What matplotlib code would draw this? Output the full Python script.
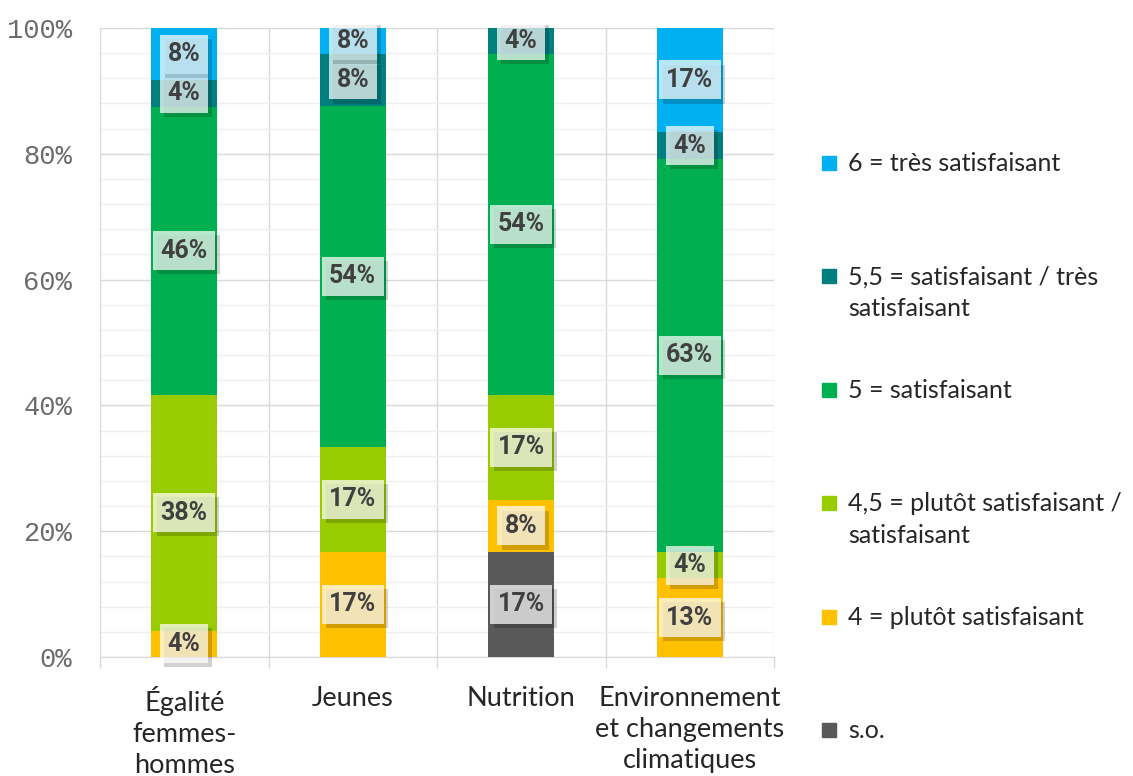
import matplotlib
matplotlib.use('Agg')
import numpy as np
import matplotlib.pyplot as plt
import matplotlib.patheffects as pe
from matplotlib.patches import Rectangle
from matplotlib.ticker import MultipleLocator, FuncFormatter

categories = ['Égalité\nfemmes-\nhommes', 'Jeunes', 'Nutrition',
              'Environnement\net changements\nclimatiques']

series_names = ['s.o.', '4 = plutôt satisfaisant',
                '4,5 = plutôt satisfaisant /\nsatisfaisant', '5 = satisfaisant',
                '5,5 = satisfaisant / très\nsatisfaisant', '6 = très satisfaisant']
colors = ['#595959', '#FFC000', '#99CC00', '#00B050', '#007F7F', '#00B0F0']

# heights of segments (%), bottom to top
so = [0, 0, 16.7, 0]
note4 = [4.2, 16.7, 8.3, 12.5]
note45 = [37.5, 16.7, 16.7, 4.2]
note5 = [45.8, 54.2, 54.2, 62.5]
note55 = [4.2, 8.3, 4.2, 4.2]
note6 = [8.3, 4.2, 0, 16.7]

# labels as printed on the chart
lab_so = ['', '', '17%', '']
lab4 = ['4%', '17%', '8%', '13%']
lab45 = ['38%', '17%', '17%', '4%']
lab5 = ['46%', '54%', '54%', '63%']
lab55 = ['4%', '8%', '4%', '4%']
lab6 = ['8%', '8%', '', '17%']

series = [so, note4, note45, note5, note55, note6]
labels = [lab_so, lab4, lab45, lab5, lab55, lab6]

W, H = 1133, 776
fig = plt.figure(figsize=(W / 100, H / 100), dpi=100)
ax = fig.add_axes([100 / W, 1 - 657 / H, 674 / W, 629 / H])

x = np.arange(len(categories))
bottom = np.zeros(len(categories))
for vals, labs, c in zip(series, labels, colors):
    vals = np.array(vals, dtype=float)
    ax.bar(x, vals, 0.39, bottom=bottom, color=c, zorder=3)
    for xi, v, b, l in zip(x, vals, bottom, labs):
        if not l:
            continue
        t = ax.text(xi, b + v / 2, l, ha='center', va='center', fontsize=18,
                    fontweight='bold', family='Roboto', color='#404040', zorder=5,
                    bbox=dict(boxstyle='square,pad=0.3', fc='white', ec='none', alpha=0.72))
        t.get_bbox_patch().set_path_effects(
            [pe.SimplePatchShadow(offset=(3, -3), shadow_rgbFace='black', alpha=0.18), pe.Normal()])
    bottom += vals

ax.set_xlim(-0.5, len(categories) - 0.5)
ax.set_ylim(0, 100)
ax.yaxis.set_major_locator(MultipleLocator(20))
ax.yaxis.set_minor_locator(MultipleLocator(4))
ax.yaxis.set_major_formatter(FuncFormatter(lambda v, p: f'{int(v)}%'))
ax.set_xticks(x)
ax.set_xticklabels(categories, fontsize=19.5, family='Lato', color='#262626', linespacing=1.3)
ax.set_xticks(np.arange(-0.5, len(categories), 1), minor=True)

ax.tick_params(axis='x', which='major', length=0, pad=21)
ax.tick_params(axis='x', which='minor', length=8, color='#d9d9d9', width=1)
ax.tick_params(axis='y', which='both', length=0, pad=20)
for lab in ax.get_yticklabels():
    lab.set_family('Liberation Mono')
    lab.set_fontsize(19.5)
    lab.set_color('#6b6b6b')

ax.set_axisbelow(True)
ax.grid(which='major', axis='y', color='#d9d9d9', lw=1, zorder=0)
ax.grid(which='minor', axis='y', color='#efefef', lw=1, zorder=0)
ax.grid(which='minor', axis='x', color='#d9d9d9', lw=1, zorder=0)
for s in ['top', 'right']:
    ax.spines[s].set_visible(False)
for s in ['left', 'bottom']:
    ax.spines[s].set_color('#d9d9d9')

# legend, top entry first
step = 113.4
for i, k in enumerate(range(len(series_names) - 1, -1, -1)):
    yc = 163 + i * step
    fy = 1 - yc / H
    fig.patches.append(Rectangle((822 / W, fy - 7 / H), 14 / W, 14 / H,
                                 transform=fig.transFigure, color=colors[k]))
    fig.text(848 / W, fy + 11 / H, series_names[k], va='top', ha='left', fontsize=18,
             family='Lato', color='#262626', linespacing=1.45)

fig.savefig('out.png', dpi=100)
